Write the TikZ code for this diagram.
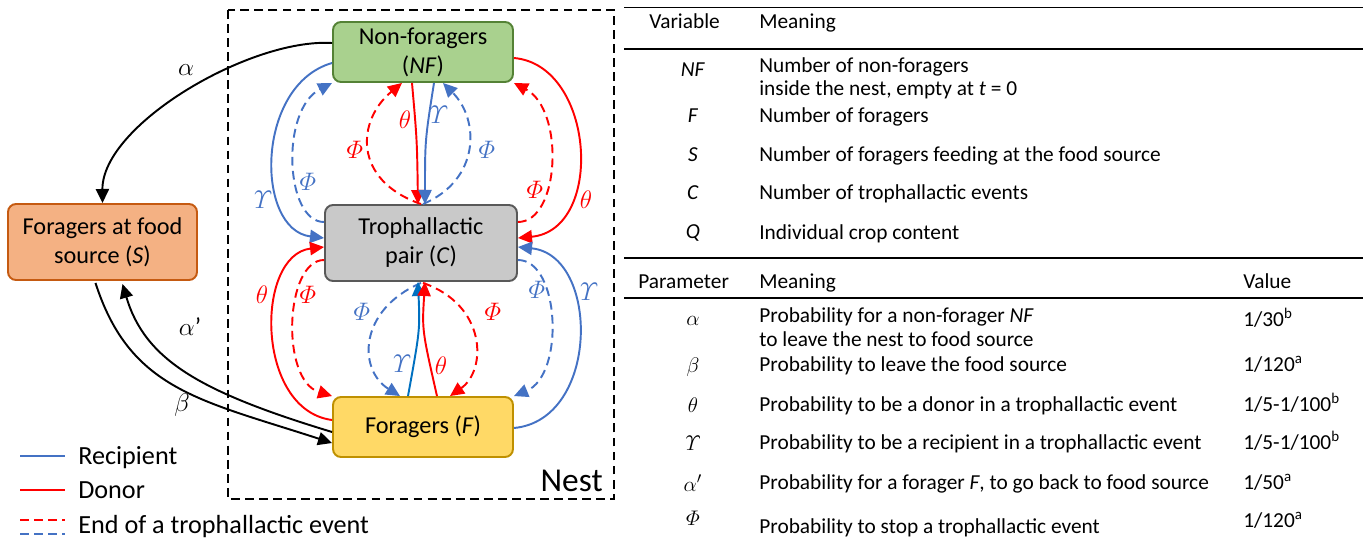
\documentclass[tikz,border=0pt]{standalone}
\usepackage{amsmath}
\usepackage{fontspec}
\setmainfont{Carlito}
\usetikzlibrary{arrows.meta,calc}
\definecolor{blu}{HTML}{4472C4}
\definecolor{blu2}{HTML}{0070C0}
\definecolor{rd}{HTML}{FF0000}
\definecolor{gfill}{HTML}{A9D18E}
\definecolor{gdraw}{HTML}{548235}
\definecolor{cfill}{HTML}{C9C9C9}
\definecolor{cdraw}{HTML}{595959}
\definecolor{yfill}{HTML}{FFD966}
\definecolor{ydraw}{HTML}{BF9000}
\definecolor{ofill}{HTML}{F4B183}
\definecolor{odraw}{HTML}{C55A11}
\begin{document}
\begin{tikzpicture}[x=0.02cm,y=-0.02cm,
  box/.style={draw, line width=1.1pt, rounded corners=0.16cm, align=center,
    font=\fontsize{13.8}{16.5}\selectfont, inner sep=0pt},
  arr/.style={line width=1.1pt, -{Triangle[length=8pt,width=7.5pt]}},
  dsh/.style={dash pattern=on 5pt off 3pt},
  lab/.style={font=\fontsize{14.4}{16}\selectfont, inner sep=0pt},
  tb/.style={font=\fontsize{12.15}{14}\selectfont, inner sep=0pt, anchor=base west},
  sym/.style={font=\fontsize{12.15}{14}\selectfont, inner sep=0pt},
  leg/.style={font=\fontsize{14.9}{17}\selectfont, inner sep=0pt, anchor=base west},
  rule/.style={line width=1.1pt},
]
\useasboundingbox (0,0) rectangle (1363,541);

% nest frame
\draw[line width=0.9pt, dsh] (228,10) rectangle (614,499);
\node[font=\fontsize{19}{22}\selectfont, anchor=base east, inner sep=0pt] (nest) at (603,491) {Nest};

% boxes
\node[box, fill=gfill, draw=gdraw, minimum width=3.6cm, minimum height=1.2cm] (NF) at (423,52) {Non-foragers\\(\textit{NF})};
\node[box, fill=cfill, draw=cdraw, minimum width=3.84cm, minimum height=1.52cm] (C) at (421,243) {Trophallactic\\pair (\textit{C})};
\node[box, fill=yfill, draw=ydraw, minimum width=3.6cm, minimum height=1.2cm] (F) at (423,427) {Foragers (\textit{F})};
\node[box, fill=ofill, draw=odraw, minimum width=3.78cm, minimum height=1.52cm] (S) at (102.5,242) {Foragers at food\\source (\textit{S})};

% black transitions
\draw[arr] ($(NF.west)+(0,-9)$) .. controls (250,38) and (102,125) .. (S.north);
\draw[arr] ($(F.west)+(0,5)$) .. controls (200,392) and (145,360) .. ($(S.south)+(20,3)$);
\draw[arr] ($(S.south)+(-7,2)$) .. controls (130,390) and (200,400) .. ($(F.west)+(0,16)$);
\node[lab] (la) at (186,70) {$\alpha$};
\node[lab] (lap) at (190,327) {$\alpha$’};
\node[lab] (lb) at (182,405) {$\beta$};

% top left
\draw[arr, blu] ($(NF.west)+(0,11)$) .. controls (255,85) and (255,230) .. ($(C.west)+(0,-5)$);
\draw[arr, blu, dsh] ($(C.west)+(0,-21)$) .. controls (285,222) and (280,110) .. (NF.south west);
\node[lab, blu] (l1) at (263,200) {$\varUpsilon$};
\node[lab, blu] (l2) at (308,182) {$\varPhi$};

% top middle
\draw[arr, rd] ($(NF.south)+(-11,0)$) .. controls (417,140) .. ($(C.north)+(-3,0)$);
\draw[arr, blu] ($(NF.south)+(11,0)$) .. controls (425,140) .. ($(C.north)+(4,0)$);
\draw[arr, rd, dsh] (C.north) .. controls (352,180) and (357,120) .. ($(NF.south)+(-21,0)$);
\draw[arr, blu, dsh] ($(C.north)+(2,0)$) .. controls (480,180) and (480,120) .. ($(NF.south)+(20,0)$);
\node[lab, rd] (l3) at (405,120) {$\theta$};
\node[lab, blu] (l4) at (439,115) {$\varUpsilon$};
\node[lab, rd] (l5) at (355,150) {$\varPhi$};
\node[lab, blu] (l6) at (487,150) {$\varPhi$};

% top right
\draw[arr, rd] ($(NF.east)+(0,6)$) .. controls (595,65) and (605,230) .. ($(C.east)+(0,-5)$);
\draw[arr, rd, dsh] ($(C.east)+(0,-21)$) .. controls (560,222) and (565,110) .. (NF.south east);
\node[lab, rd] (l7) at (535,190) {$\varPhi$};
\node[lab, rd] (l8) at (586,200) {$\theta$};

% bottom left
\draw[arr, rd] ($(F.west)+(0,-7)$) .. controls (255,410) and (255,255) .. ($(C.west)+(0,4)$);
\draw[arr, rd, dsh] ($(C.west)+(0,17)$) .. controls (285,260) and (280,380) .. (F.north west);
\node[lab, rd] (l9) at (262,295) {$\theta$};
\node[lab, rd] (l10) at (308,295) {$\varPhi$};

% bottom middle
\draw[arr, blu, dsh] ($(C.south)+(0,1)$) .. controls (358,310) and (358,370) .. ($(F.north)+(-23,0)$);
\draw[arr, blu2] ($(F.north)+(-15,0)$) .. controls (420,330) .. ($(C.south)+(-3,0)$);
\draw[arr, rd] ($(F.north)+(14,0)$) .. controls (422,330) .. ($(C.south)+(4,0)$);
\draw[arr, rd, dsh] ($(C.south)+(2,1)$) .. controls (487,305) and (487,370) .. ($(F.north)+(27,0)$);
\node[lab, blu] (l11) at (362,312) {$\varPhi$};
\node[lab, blu] (l12) at (402,364) {$\varUpsilon$};
\node[lab, rd] (l13) at (441,366) {$\theta$};
\node[lab, rd] (l14) at (493,312) {$\varPhi$};

% bottom right
\draw[arr, blu] ($(F.east)+(0,1)$) .. controls (600,420) and (600,255) .. ($(C.east)+(0,4)$);
\draw[arr, blu, dsh] ($(C.east)+(0,17)$) .. controls (560,260) and (565,375) .. (F.north east);
\node[lab, blu] (l15) at (537,290) {$\varPhi$};
\node[lab, blu] (l16) at (589,292) {$\varUpsilon$};

% legend
\draw[blu, line width=1.1pt] (20,456) -- (65,456);
\node[leg] (lgr) at (78,464) {Recipient};
\draw[rd, line width=1.1pt] (20,490) -- (65,490);
\node[leg] (lgd) at (78,498) {Donor};
\draw[rd, line width=1.1pt, dsh] (20,520) -- (65,520);
\draw[blu, line width=1.1pt, dsh] (20,534) -- (65,534);
\node[leg] (lge) at (78,533) {End of a trophallactic event};

% table 1
\draw[rule] (624,7.5) -- (1363,7.5);
\draw[rule] (624,49) -- (1363,49);
\draw[rule] (624,258) -- (1363,258);
\draw[rule] (624,298) -- (1363,298);
\node[tb] (hv) at (649,29) {Variable};
\node[tb] (hm) at (759,29) {Meaning};
\node[sym] (vNF) at (693,70) {\textit{NF}};
\node[tb] (mNF1) at (759,72) {Number of non-foragers};
\node[tb] (mNF2) at (759,95) {inside the nest, empty at \textit{t} = 0};
\node[sym] (vF) at (693,116) {\textit{F}};
\node[tb] (mF) at (759,122) {Number of foragers};
\node[sym] (vS) at (693,155) {\textit{S}};
\node[tb] (mS) at (759,161) {Number of foragers feeding at the food source};
\node[sym] (vC) at (693,193) {\textit{C}};
\node[tb] (mC) at (759,199) {Number of trophallactic events};
\node[sym] (vQ) at (693,233) {\textit{Q}};
\node[tb] (mQ) at (759,239) {Individual crop content};

% table 2
\node[tb] (hp) at (638,288) {Parameter};
\node[tb] (hm2) at (759,288) {Meaning};
\node[tb] (hval) at (1243,288) {Value};
\node[sym] (pa) at (693,321) {$\alpha$};
\node[tb] (ma1) at (759,322) {Probability for a non-forager \textit{NF}};
\node[tb] (ma2) at (759,346) {to leave the nest to food source};
\node[tb] (va) at (1243,326) {1/30\textsuperscript{b}};
\node[sym] (pb) at (693,367) {$\beta$};
\node[tb] (mb) at (759,371) {Probability to leave the food source};
\node[tb] (vb) at (1243,371) {1/120\textsuperscript{a}};
\node[sym] (pt) at (693,405) {$\theta$};
\node[tb] (mt) at (759,411) {Probability to be a donor in a trophallactic event};
\node[tb] (vt) at (1243,411) {1/5-1/100\textsuperscript{b}};
\node[sym] (pu) at (693,443) {$\varUpsilon$};
\node[tb] (mu) at (759,449) {Probability to be a recipient in a trophallactic event};
\node[tb] (vu) at (1243,449) {1/5-1/100\textsuperscript{b}};
\node[sym] (pap) at (693,483) {$\alpha'$};
\node[tb] (map) at (759,489) {Probability for a forager \textit{F}, to go back to food source};
\node[tb] (vap) at (1243,489) {1/50\textsuperscript{a}};
\node[sym] (pf) at (693,518) {$\varPhi$};
\node[tb] (mf) at (759,533) {Probability to stop a trophallactic event};
\node[tb] (vf) at (1243,527) {1/120\textsuperscript{a}};
\end{tikzpicture}
\end{document}
